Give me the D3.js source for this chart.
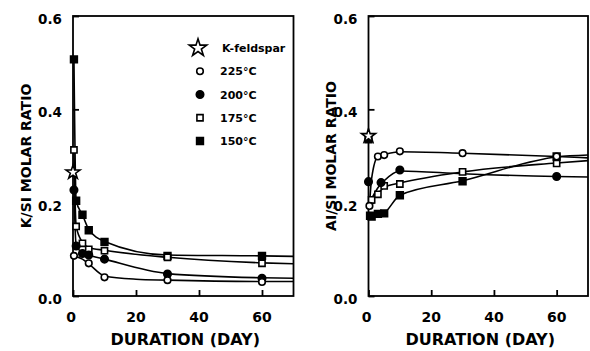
<!DOCTYPE html>
<html><head><meta charset="utf-8">
<script src="https://cdn.jsdelivr.net/npm/d3@7"></script>
<style>
body{margin:0;background:#fff}
svg{display:block}
text{font-family:"DejaVu Sans",Verdana,sans-serif;font-weight:bold;fill:#000}
</style>
</head><body>
<svg id="chart" width="590" height="351"></svg>
<script>
// ---------- data ----------
const xTicks = [0, 20, 40, 60];
const yTicks = [0.0, 0.2, 0.4, 0.6];
const xTitle = "DURATION (DAY)";
const yTitleK = "K/SI MOLAR RATIO";
const yTitleAl = "AI/SI MOLAR RATIO";
const legendLabels = ["K-feldspar", "225°C", "200°C", "175°C", "150°C"];
const legendKeys = ["star", "225", "200", "175", "150"];

// K/Si panel: measured points [day, ratio]
const kFeldsparK = [[0, 0.265]];
const k225 = [[0.3, 0.086], [5, 0.070], [10, 0.040], [30, 0.034], [60, 0.030]];
const k200 = [[0.3, 0.227], [1, 0.107], [3, 0.091], [5, 0.088], [10, 0.079], [30, 0.047], [60, 0.038]];
const k175 = [[0.3, 0.313], [1, 0.149], [3, 0.113], [5, 0.100], [10, 0.097], [30, 0.083], [60, 0.070]];
const k150 = [[0.3, 0.507], [1, 0.204], [3, 0.174], [5, 0.141], [10, 0.116], [30, 0.086], [60, 0.086]];
// K/Si panel: hand-drawn fitted curves [day, ratio]
const kFit225 = [[0, 0.086], [3, 0.079], [5, 0.069], [10, 0.043], [20, 0.036], [30, 0.034], [60, 0.031], [70, 0.031]];
const kFit200 = [[0.3, 0.227], [1, 0.108], [3, 0.093], [5, 0.088], [10, 0.079], [30, 0.048], [60, 0.039], [70, 0.038]];
const kFit175 = [[0.3, 0.313], [1, 0.149], [3, 0.115], [5, 0.104], [10, 0.098], [30, 0.083], [60, 0.071], [70, 0.069]];
const kFit150 = [[0.3, 0.507], [1, 0.204], [3, 0.174], [5, 0.143], [10, 0.117], [30, 0.088], [60, 0.086], [70, 0.085]];

// Al/Si panel: measured points [day, ratio]
const kFeldsparAl = [[0, 0.343]];
const a150Start = [[0, 0.336]];
const a225 = [[0.3, 0.193], [3, 0.299], [5, 0.302], [10, 0.310], [30, 0.306], [60, 0.299]];
const a200 = [[0, 0.245], [4, 0.243], [10, 0.270], [60, 0.256]];
const a175 = [[1, 0.206], [3, 0.218], [5, 0.236], [10, 0.240], [30, 0.266], [60, 0.284]];
const a150 = [[0.5, 0.172], [1, 0.170], [3, 0.176], [5, 0.177], [10, 0.216], [30, 0.246], [60, 0.299]];
// Al/Si panel: hand-drawn fitted curves [day, ratio]
const aFit225 = [[0.3, 0.193], [1, 0.252], [3, 0.299], [5, 0.303], [10, 0.309], [30, 0.306], [60, 0.299], [70, 0.296]];
const aFit200 = [[0.8, 0.206], [3, 0.232], [5, 0.247], [10, 0.268], [30, 0.262], [60, 0.256], [70, 0.255]];
const aFit175 = [[0.5, 0.195], [1, 0.206], [3, 0.219], [5, 0.233], [10, 0.242], [30, 0.266], [60, 0.285], [70, 0.290]];
const aFit150 = [[0.5, 0.172], [3, 0.174], [5, 0.178], [10, 0.216], [30, 0.247], [60, 0.298], [70, 0.302]];

// ---------- drawing ----------
const svg = d3.select("#chart");

const markerStyle = {
  "225": {type: d3.symbolCircle, size: 34, fill: "#fff"},
  "200": {type: d3.symbolCircle, size: 44, fill: "#000"},
  "175": {type: d3.symbolSquare, size: 38, fill: "#fff"},
  "150": {type: d3.symbolSquare, size: 46, fill: "#000"},
  "star": {type: d3.symbolStar, size: 60, fill: "#fff"}
};

function drawMarkers(g, x, y, pts, key) {
  const st = markerStyle[key];
  g.selectAll(null).data(pts).join("path")
    .attr("d", d3.symbol().type(st.type).size(st.size))
    .attr("transform", d => `translate(${x(d[0])},${y(d[1])})`)
    .attr("fill", st.fill).attr("stroke", "#000").attr("stroke-width", 1.6);
}

function panel(cfg) {
  const x = d3.scaleLinear().domain([0, 70]).range([cfg.x0, cfg.x1]);
  const y = d3.scaleLinear().domain([0, 0.6]).range([296, 16]);
  const g = svg.append("g");

  // frame
  g.append("rect").attr("x", cfg.x0).attr("y", 16).attr("width", cfg.x1 - cfg.x0).attr("height", 280)
    .attr("fill", "none").attr("stroke", "#000").attr("stroke-width", 1.8);

  // inward ticks
  const xAxis = d3.axisBottom(x).tickValues(xTicks).tickSize(-6).tickFormat("");
  g.append("g").attr("transform", "translate(0,296)").call(xAxis)
    .call(s => s.select(".domain").remove())
    .call(s => s.selectAll("line").attr("stroke-width", 1.8));
  const yAxis = d3.axisLeft(y).tickValues(yTicks).tickSize(-6).tickFormat("");
  g.append("g").attr("transform", `translate(${cfg.x0},0)`).call(yAxis)
    .call(s => s.select(".domain").remove())
    .call(s => s.selectAll("line").attr("stroke-width", 1.8));

  // tick labels
  g.selectAll(null).data(xTicks).join("text")
    .attr("x", d => x(d) - (d === 0 ? 2 : 0)).attr("y", 322)
    .attr("text-anchor", "middle").attr("font-size", 14)
    .text(d => d);
  g.selectAll(null).data(yTicks).join("text")
    .attr("x", cfg.x0 - 11).attr("y", d => y(d) + 8)
    .attr("text-anchor", "end").attr("font-size", 13.5)
    .text(d => d.toFixed(1));

  // axis titles
  g.append("text").attr("x", (cfg.x0 + cfg.x1) / 2 + 2).attr("y", 345)
    .attr("text-anchor", "middle").attr("font-size", 16)
    .text(xTitle);
  g.append("text").attr("transform", `translate(${cfg.tx},156) rotate(-90)`)
    .attr("text-anchor", "middle").attr("font-size", 14)
    .text(cfg.yTitle);

  // fitted curves
  const line = d3.line().x(d => x(d[0])).y(d => y(d[1])).curve(d3.curveMonotoneX);
  cfg.fits.forEach(f => {
    g.append("path").attr("d", line(f)).attr("fill", "none")
      .attr("stroke", "#000").attr("stroke-width", 1.6);
  });

  // markers
  cfg.points.forEach(p => drawMarkers(g, x, y, p[0], p[1]));
  return {g, x, y};
}

panel({
  x0: 73, x1: 293.5, tx: 31, yTitle: yTitleK,
  fits: [kFit225, kFit200, kFit175, kFit150],
  points: [[k150, "150"], [k175, "175"], [k200, "200"], [k225, "225"], [kFeldsparK, "star"]]
});

panel({
  x0: 368.5, x1: 588, tx: 336, yTitle: yTitleAl,
  fits: [aFit225, aFit200, aFit175, aFit150],
  points: [[a150Start, "150"], [a150, "150"], [a175, "175"], [a200, "200"], [a225, "225"], [kFeldsparAl, "star"]]
});

// legend (inside left panel)
const legY = d3.scalePoint().domain(legendKeys).range([48, 141]);
const leg = svg.append("g");
legendKeys.forEach((k, i) => {
  const st = markerStyle[k];
  leg.append("path")
    .attr("d", d3.symbol().type(st.type).size(k === "star" ? 95 : st.size))
    .attr("transform", `translate(${k === "star" ? 198 : 200},${legY(k)})`)
    .attr("fill", st.fill).attr("stroke", "#000").attr("stroke-width", 1.6);
  leg.append("text").attr("x", k === "star" ? 222 : 220).attr("y", legY(k) + 4)
    .attr("font-size", 11)
    .text(legendLabels[i]);
});
</script>
</body></html>
